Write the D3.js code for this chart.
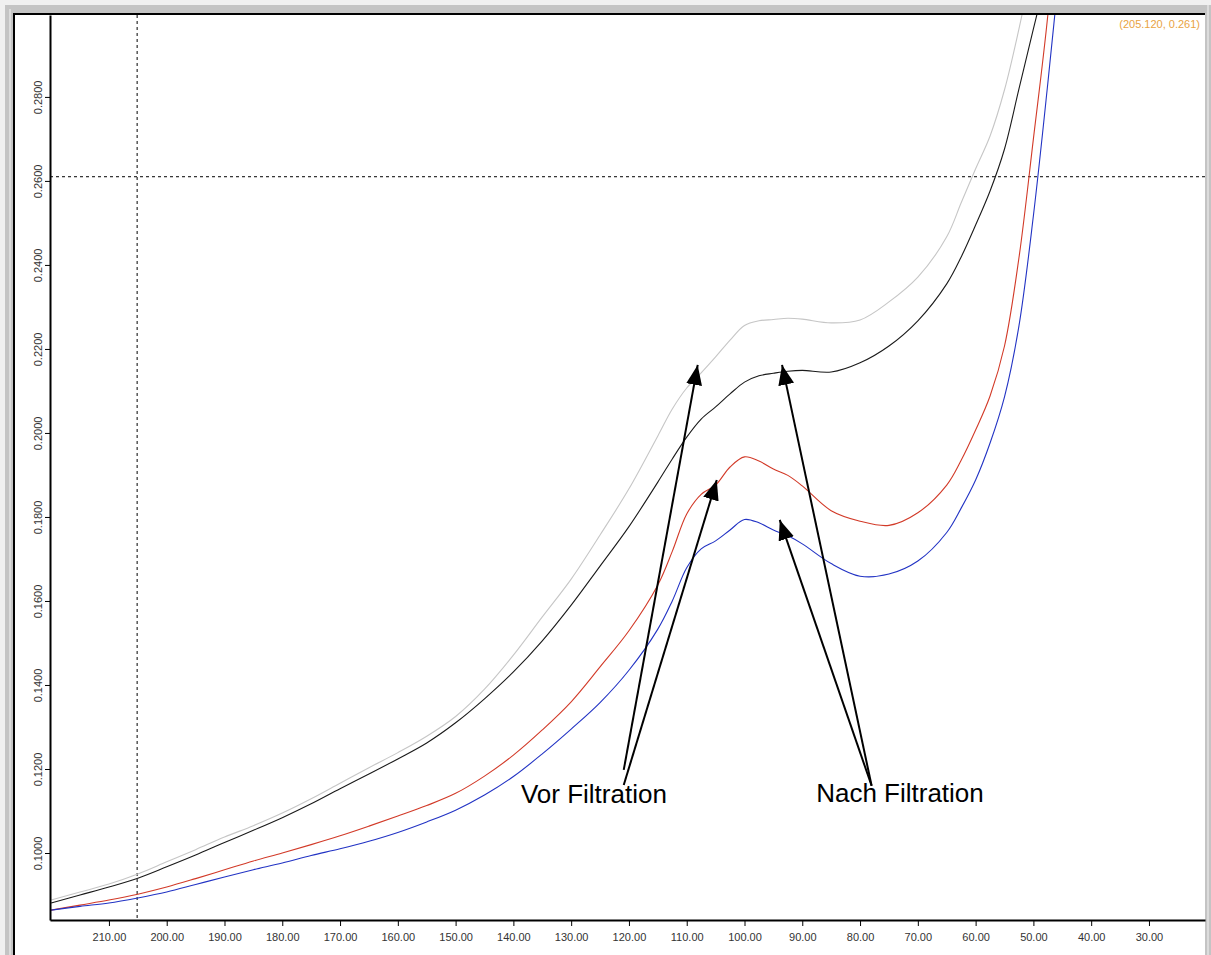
<!DOCTYPE html>
<html>
<head>
<meta charset="utf-8">
<style>
  body { margin: 0; background: #f0f0f0; }
  svg { display: block; font-family: "Liberation Sans", Arial, sans-serif; }
</style>
</head>
<body>
<div id="graph_div"></div>
<script src="https://d3js.org/d3.v7.min.js"></script>
<script>
// wavelength (nm) - the instrument plots it running right to left
var wavelength = [220, 215, 210, 205, 200, 195, 190, 185, 180, 175, 170, 165, 160, 155, 150,
  145, 140, 135, 130, 125, 120, 115, 112.5, 110, 107.5, 105, 102.5, 100, 97.5, 95, 92.5, 90,
  85, 80, 75, 70, 65, 62.5, 60, 57.5, 55, 52.5, 50, 47.5, 45];

// absorbance of the four scans
var greyScan = [0.0888, 0.0907, 0.0926, 0.0950, 0.0979, 0.1008, 0.1038, 0.1065, 0.1095, 0.1129,
  0.1166, 0.1203, 0.1239, 0.1278, 0.1325, 0.1390, 0.1471, 0.1562, 0.1652, 0.1757, 0.1867,
  0.1993, 0.2057, 0.2107, 0.2143, 0.2181, 0.2221, 0.2256, 0.2267, 0.2270, 0.2273, 0.2271,
  0.2262, 0.2269, 0.2312, 0.2371, 0.2467, 0.2548, 0.2629, 0.2707, 0.2817, 0.2962, 0.3126,
  0.3293, 0.3460];
var blackScan = [0.0881, 0.0900, 0.0919, 0.0940, 0.0967, 0.0995, 0.1025, 0.1054, 0.1084, 0.1117,
  0.1153, 0.1188, 0.1224, 0.1262, 0.1310, 0.1367, 0.1431, 0.1505, 0.1590, 0.1683, 0.1777,
  0.1883, 0.1938, 0.1990, 0.2033, 0.2062, 0.2093, 0.2121, 0.2136, 0.2142, 0.2147, 0.2149,
  0.2145, 0.2167, 0.2207, 0.2267, 0.2355, 0.2419, 0.2495, 0.2576, 0.2676, 0.2819, 0.2962,
  0.3102, 0.3245];
var redScan = [0.0864, 0.0876, 0.0888, 0.0902, 0.0919, 0.0939, 0.0960, 0.0981, 0.1000, 0.1020,
  0.1041, 0.1064, 0.1088, 0.1113, 0.1142, 0.1183, 0.1233, 0.1293, 0.1360, 0.1443, 0.1529,
  0.1638, 0.1718, 0.1807, 0.1854, 0.1876, 0.1919, 0.1943, 0.1933, 0.1914, 0.1899, 0.1874,
  0.1815, 0.1790, 0.1780, 0.1810, 0.1876, 0.1935, 0.2007, 0.2088, 0.2207, 0.2417, 0.2700,
  0.2995, 0.3388];
var blueScan = [0.0864, 0.0873, 0.0881, 0.0893, 0.0907, 0.0925, 0.0943, 0.0960, 0.0976, 0.0994,
  0.1010, 0.1028, 0.1049, 0.1074, 0.1102, 0.1138, 0.1182, 0.1236, 0.1295, 0.1358, 0.1435,
  0.1533, 0.1600, 0.1679, 0.1724, 0.1743, 0.1769, 0.1794, 0.1786, 0.1769, 0.1755, 0.1736,
  0.1689, 0.1659, 0.1664, 0.1695, 0.1763, 0.1821, 0.1888, 0.1976, 0.2086, 0.2255, 0.2517,
  0.2833, 0.3174];

var xTicks = [210, 200, 190, 180, 170, 160, 150, 140, 130, 120, 110, 100, 90, 80, 70, 60, 50, 40, 30];
var yTicks = [0.10, 0.12, 0.14, 0.16, 0.18, 0.20, 0.22, 0.24, 0.26, 0.28];

// cursor read-out
var cursor = [205.12, 0.261];

// annotation labels and arrows (data units)
var labels = [
  {text: "Vor Filtration", x: 138.7, y: 0.1119},
  {text: "Nach Filtration", x: 87.6, y: 0.1121}
];
var arrows = [
  {x0: 120.9, y0: 0.1198, x1: 108.1, y1: 0.2162},
  {x0: 120.9, y0: 0.1162, x1: 104.8, y1: 0.1888},
  {x0: 78.0, y0: 0.1160, x1: 93.5, y1: 0.2162},
  {x0: 78.0, y0: 0.1160, x1: 93.9, y1: 0.1793}
];

var W = 1211, H = 955;
var margin = {top: 15, right: 6, bottom: 35, left: 50},
    width = W - margin.left - margin.right,
    height = H - margin.top - margin.bottom;

var root = d3.select("#graph_div").append("svg")
    .attr("width", W)
    .attr("height", H);

// window frame
root.append("rect").attr("width", W).attr("height", H).attr("fill", "#f0f0f0");
root.append("rect").attr("x", 5).attr("y", 5).attr("width", W - 5).attr("height", H - 5).attr("fill", "#c4c4c4");
root.append("rect").attr("x", 9).attr("y", 9).attr("width", 2).attr("height", H - 9).attr("fill", "#dcdcdc");
root.append("rect").attr("x", 13).attr("y", 13).attr("width", 1205 - 13).attr("height", H - 13).attr("fill", "#fff");
root.append("rect").attr("x", 13).attr("y", 13).attr("width", 1205 - 13).attr("height", 2).attr("fill", "#000");
root.append("rect").attr("x", 13).attr("y", 13).attr("width", 2).attr("height", H - 13).attr("fill", "#000");
root.append("rect").attr("x", 1207).attr("y", 5).attr("width", 2).attr("height", H - 5).attr("fill", "#dcdcdc");

var svg = root.append("g")
    .attr("transform", "translate(" + margin.left + "," + margin.top + ")");

var x = d3.scaleLinear().domain([220.2, 20.3]).range([0, width]);
var y = d3.scaleLinear().domain([0.08405, 0.2995]).range([height, 0]);

svg.append("clipPath").attr("id", "clip")
  .append("rect").attr("width", width).attr("height", height);

// cursor cross-hair
svg.append("line")
    .attr("x1", x(cursor[0])).attr("x2", x(cursor[0]))
    .attr("y1", 0).attr("y2", height)
    .attr("stroke", "#000").attr("stroke-dasharray", "3,3");
svg.append("line")
    .attr("x1", 0).attr("x2", width)
    .attr("y1", y(cursor[1])).attr("y2", y(cursor[1]))
    .attr("stroke", "#000").attr("stroke-dasharray", "3,3");

var series = [
  {name: "grey", values: greyScan, color: "#c6c6c6"},
  {name: "black", values: blackScan, color: "#1a1a1a"},
  {name: "red", values: redScan, color: "#d23a28"},
  {name: "blue", values: blueScan, color: "#2233c4"}
];

var line = d3.line()
    .x(function(d) { return x(d[0]); })
    .y(function(d) { return y(d[1]); })
    .curve(d3.curveCatmullRom.alpha(0.5));

svg.append("g").attr("clip-path", "url(#clip)")
  .selectAll("path")
  .data(series)
  .enter().append("path")
    .attr("d", function(s) { return line(wavelength.map(function(w, i) { return [w, s.values[i]]; })); })
    .attr("fill", "none")
    .attr("stroke", function(s) { return s.color; })
    .attr("stroke-width", 1.1);

// axes
var xAxis = svg.append("g")
    .attr("transform", "translate(0," + height + ")")
    .call(d3.axisBottom(x).tickValues(xTicks).tickFormat(d3.format(".2f"))
      .tickSize(6).tickSizeOuter(0).tickPadding(7));
var yAxis = svg.append("g")
    .call(d3.axisLeft(y).tickValues(yTicks).tickFormat(d3.format(".4f"))
      .tickSize(5).tickSizeOuter(0));

[xAxis, yAxis].forEach(function(a) {
  a.attr("font-family", "'Liberation Sans', Arial, sans-serif").attr("font-size", 11);
  a.select(".domain").attr("stroke-width", 2);
  a.selectAll("text").attr("fill", "#333");
});
yAxis.selectAll(".tick text")
    .attr("transform", "rotate(-90)")
    .attr("x", 0).attr("y", -8).attr("dy", 0)
    .attr("text-anchor", "middle");

// cursor read-out
svg.append("text")
    .attr("x", width - 5)
    .attr("y", 13)
    .attr("text-anchor", "end")
    .attr("font-size", 11)
    .attr("fill", "#e9a33f")
    .text("(" + d3.format(".3f")(cursor[0]) + ", " + d3.format(".3f")(cursor[1]) + ")");

// arrows
root.append("defs").append("marker")
    .attr("id", "head")
    .attr("viewBox", "0 -8 20 16")
    .attr("refX", 20).attr("refY", 0)
    .attr("markerUnits", "userSpaceOnUse")
    .attr("markerWidth", 20).attr("markerHeight", 16)
    .attr("orient", "auto")
  .append("path").attr("d", "M0,-8L20,0L0,8Z").attr("fill", "#000");

svg.selectAll(".arrow")
  .data(arrows)
  .enter().append("line")
    .attr("class", "arrow")
    .attr("x1", function(d) { return x(d.x0); })
    .attr("y1", function(d) { return y(d.y0); })
    .attr("x2", function(d) { return x(d.x1); })
    .attr("y2", function(d) { return y(d.y1); })
    .attr("stroke", "#000")
    .attr("stroke-width", 2)
    .attr("marker-end", "url(#head)");

svg.selectAll(".label")
  .data(labels)
  .enter().append("text")
    .attr("class", "label")
    .attr("x", function(d) { return x(d.x); })
    .attr("y", function(d) { return y(d.y); })
    .attr("font-size", 26)
    .attr("fill", "#000")
    .text(function(d) { return d.text; });
</script>
</body>
</html>
